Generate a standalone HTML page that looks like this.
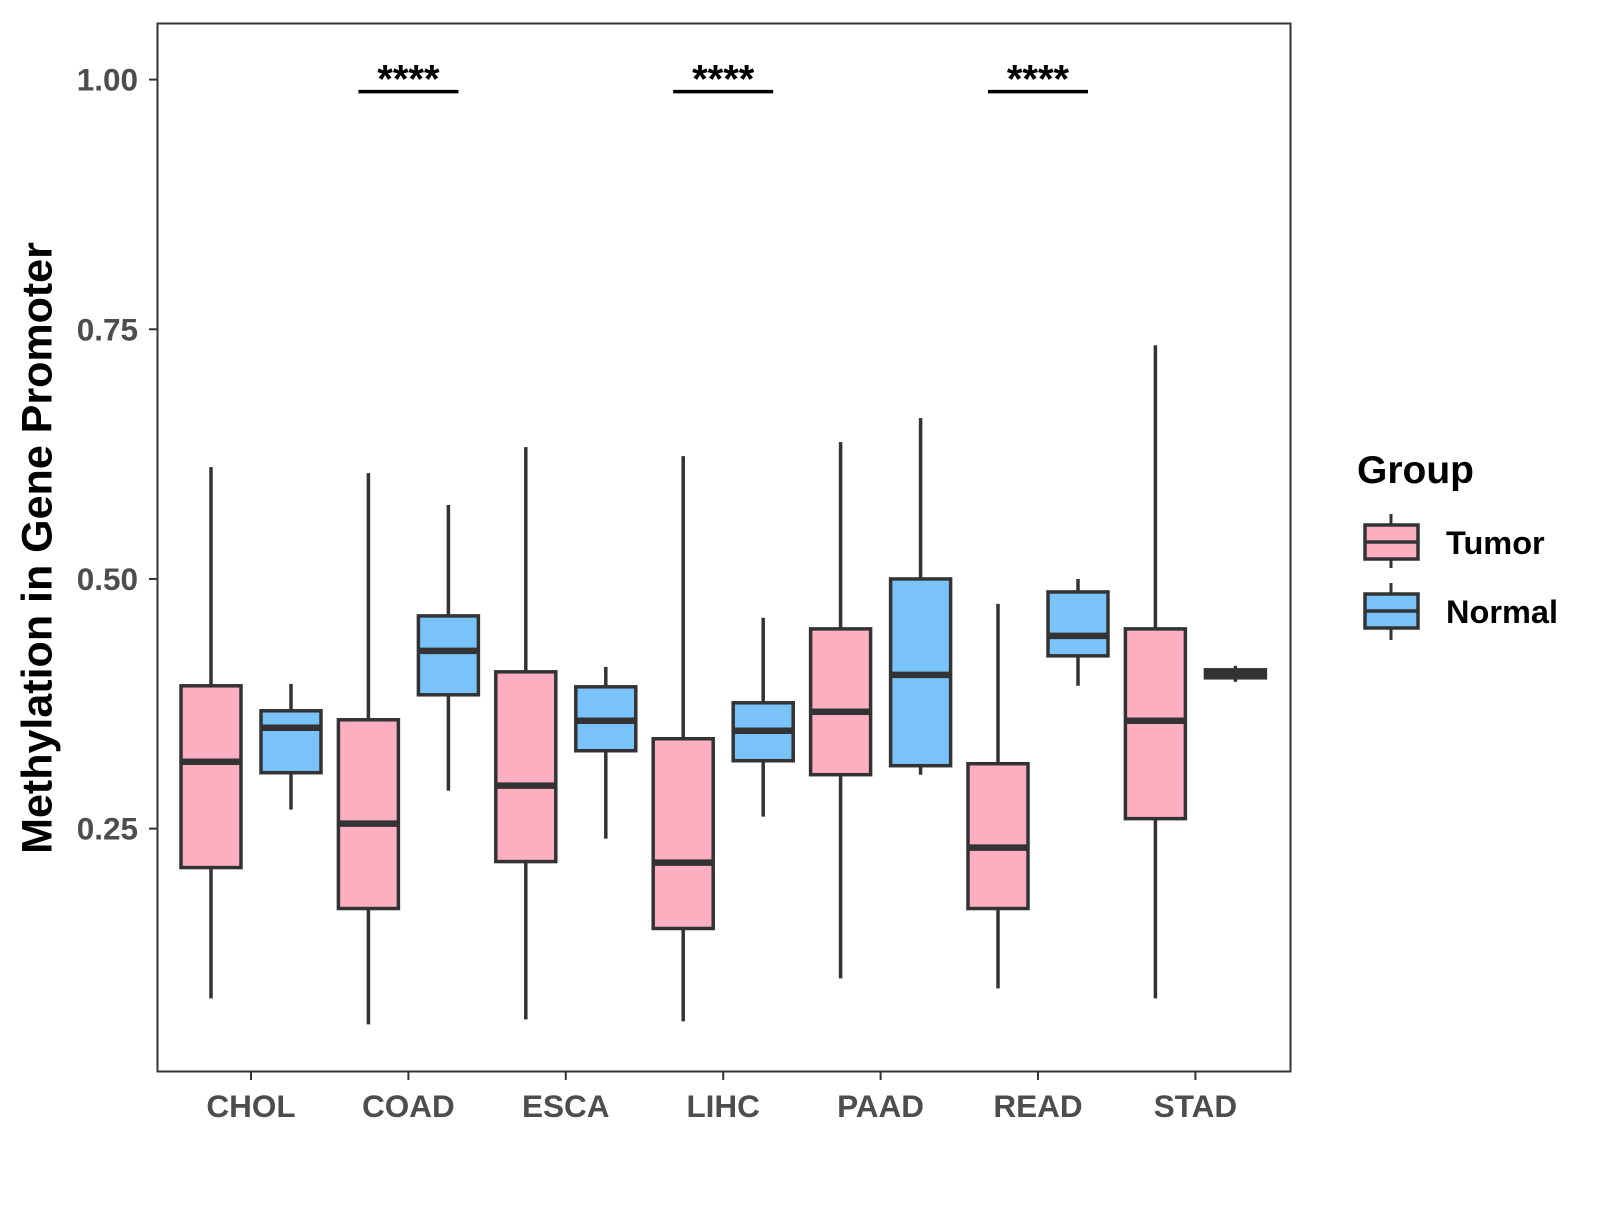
<!DOCTYPE html>
<html><head><meta charset="utf-8"><style>
html,body{margin:0;padding:0;background:#fff;}
svg text{font-family:"Liberation Sans",Arial,sans-serif;font-weight:bold;}
</style></head><body>
<svg id="chart" width="1600" height="1200" xmlns="http://www.w3.org/2000/svg">
<rect x="157.5" y="23.5" width="1133" height="1048" fill="#fff" stroke="#333" stroke-width="2"/>
<g id="marks"></g>
<g id="axes"></g>
<text x="40" y="548" font-size="43" fill="#000" text-anchor="middle" transform="rotate(-90 40 548)" dominant-baseline="middle">Methylation in Gene Promoter</text>
<g>
<text x="1357" y="483" font-size="39" fill="#000">Group</text>
<g>
<line x1="1391" y1="514" x2="1391" y2="568" stroke="#333" stroke-width="3"/>
<rect x="1365" y="525" width="53" height="34" fill="#FDAFC2" stroke="#333" stroke-width="3.5"/>
<line x1="1365" y1="542" x2="1418" y2="542" stroke="#333" stroke-width="3.5"/>
<text x="1446" y="554" font-size="32.5" fill="#000">Tumor</text></g>
<g>
<line x1="1391" y1="583" x2="1391" y2="640" stroke="#333" stroke-width="3"/>
<rect x="1365" y="594" width="53" height="34" fill="#79C3F8" stroke="#333" stroke-width="3.5"/>
<line x1="1365" y1="611" x2="1418" y2="611" stroke="#333" stroke-width="3.5"/>
<text x="1446" y="623" font-size="32.5" fill="#000">Normal</text></g>
</g>
</svg>
<script>
const categories=["CHOL","COAD","ESCA","LIHC","PAAD","READ","STAD"];
const tumorLow=[0.080,0.054,0.059,0.057,0.100,0.090,0.080];
const tumorQ1=[0.211,0.170,0.217,0.150,0.304,0.170,0.260];
const tumorMed=[0.317,0.255,0.293,0.216,0.367,0.231,0.358];
const tumorQ3=[0.393,0.359,0.407,0.340,0.450,0.315,0.450];
const tumorHigh=[0.612,0.606,0.632,0.623,0.637,0.475,0.734];
const normalLow=[0.269,0.288,0.240,0.262,0.304,0.393,0.397];
const normalQ1=[0.306,0.384,0.328,0.318,0.313,0.423,0.401];
const normalMed=[0.351,0.428,0.358,0.348,0.404,0.443,0.405];
const normalQ3=[0.368,0.463,0.392,0.376,0.500,0.487,0.409];
const normalHigh=[0.395,0.574,0.412,0.461,0.661,0.500,0.413];
const yTicks=[0.25,0.50,0.75,1.00];
const yTickLabels=["0.25","0.50","0.75","1.00"];
const sigCats=["COAD","LIHC","READ"];
const sigLabel="****";
const sigLevel=0.988;

const NS="http://www.w3.org/2000/svg";
const y=v=>79.6+(1-v)*998.7;
const x=i=>251+i*157.4;
const marks=document.getElementById('marks'), axes=document.getElementById('axes');
function mk(tag,attrs,parent){const e=document.createElementNS(NS,tag);for(const k in attrs)e.setAttribute(k,attrs[k]);parent.appendChild(e);return e;}
function box(cx,lo,q1,md,q3,hi,fill,name){
  const g=mk('g',{},marks);
  
  
  mk('line',{x1:cx,x2:cx,y1:y(hi),y2:y(lo),stroke:'#333','stroke-width':3.5},g);
  mk('rect',{x:cx-30,y:y(q3),width:60,height:Math.max(y(q1)-y(q3),1),fill:fill,stroke:'#333','stroke-width':3.5},g);
  mk('line',{x1:cx-30,x2:cx+30,y1:y(md),y2:y(md),stroke:'#333','stroke-width':6.5},g);
}
categories.forEach((c,i)=>{
  box(x(i)-40,tumorLow[i],tumorQ1[i],tumorMed[i],tumorQ3[i],tumorHigh[i],'#FDAFC2','box-tumor-'+c.toLowerCase());
  box(x(i)+40,normalLow[i],normalQ1[i],normalMed[i],normalQ3[i],normalHigh[i],'#79C3F8','box-normal-'+c.toLowerCase());
  mk('line',{x1:x(i),x2:x(i),y1:1072,y2:1080,stroke:'#333','stroke-width':2},axes);
  const t=mk('text',{x:x(i),y:1117,'font-size':31.5,fill:'#4d4d4d','text-anchor':'middle'},axes);
  t.textContent=c;
  
  
});
yTicks.forEach((v,i)=>{
  mk('line',{x1:149,x2:157,y1:y(v),y2:y(v),stroke:'#333','stroke-width':2},axes);
  const t=mk('text',{x:138,y:y(v)+11,'font-size':31.5,fill:'#4d4d4d','text-anchor':'end'},axes);
  t.textContent=yTickLabels[i];
  
  
});
sigCats.forEach(c=>{
  const i=categories.indexOf(c);
  const g=mk('g',{},marks);
  
  
  mk('line',{x1:x(i)-50,x2:x(i)+50,y1:y(sigLevel),y2:y(sigLevel),stroke:'#000','stroke-width':3.5},g);
  const t=mk('text',{x:x(i),y:y(sigLevel)+1,'font-size':40,fill:'#000','text-anchor':'middle'},g);
  t.textContent=sigLabel;
});
</script>
</body></html>
